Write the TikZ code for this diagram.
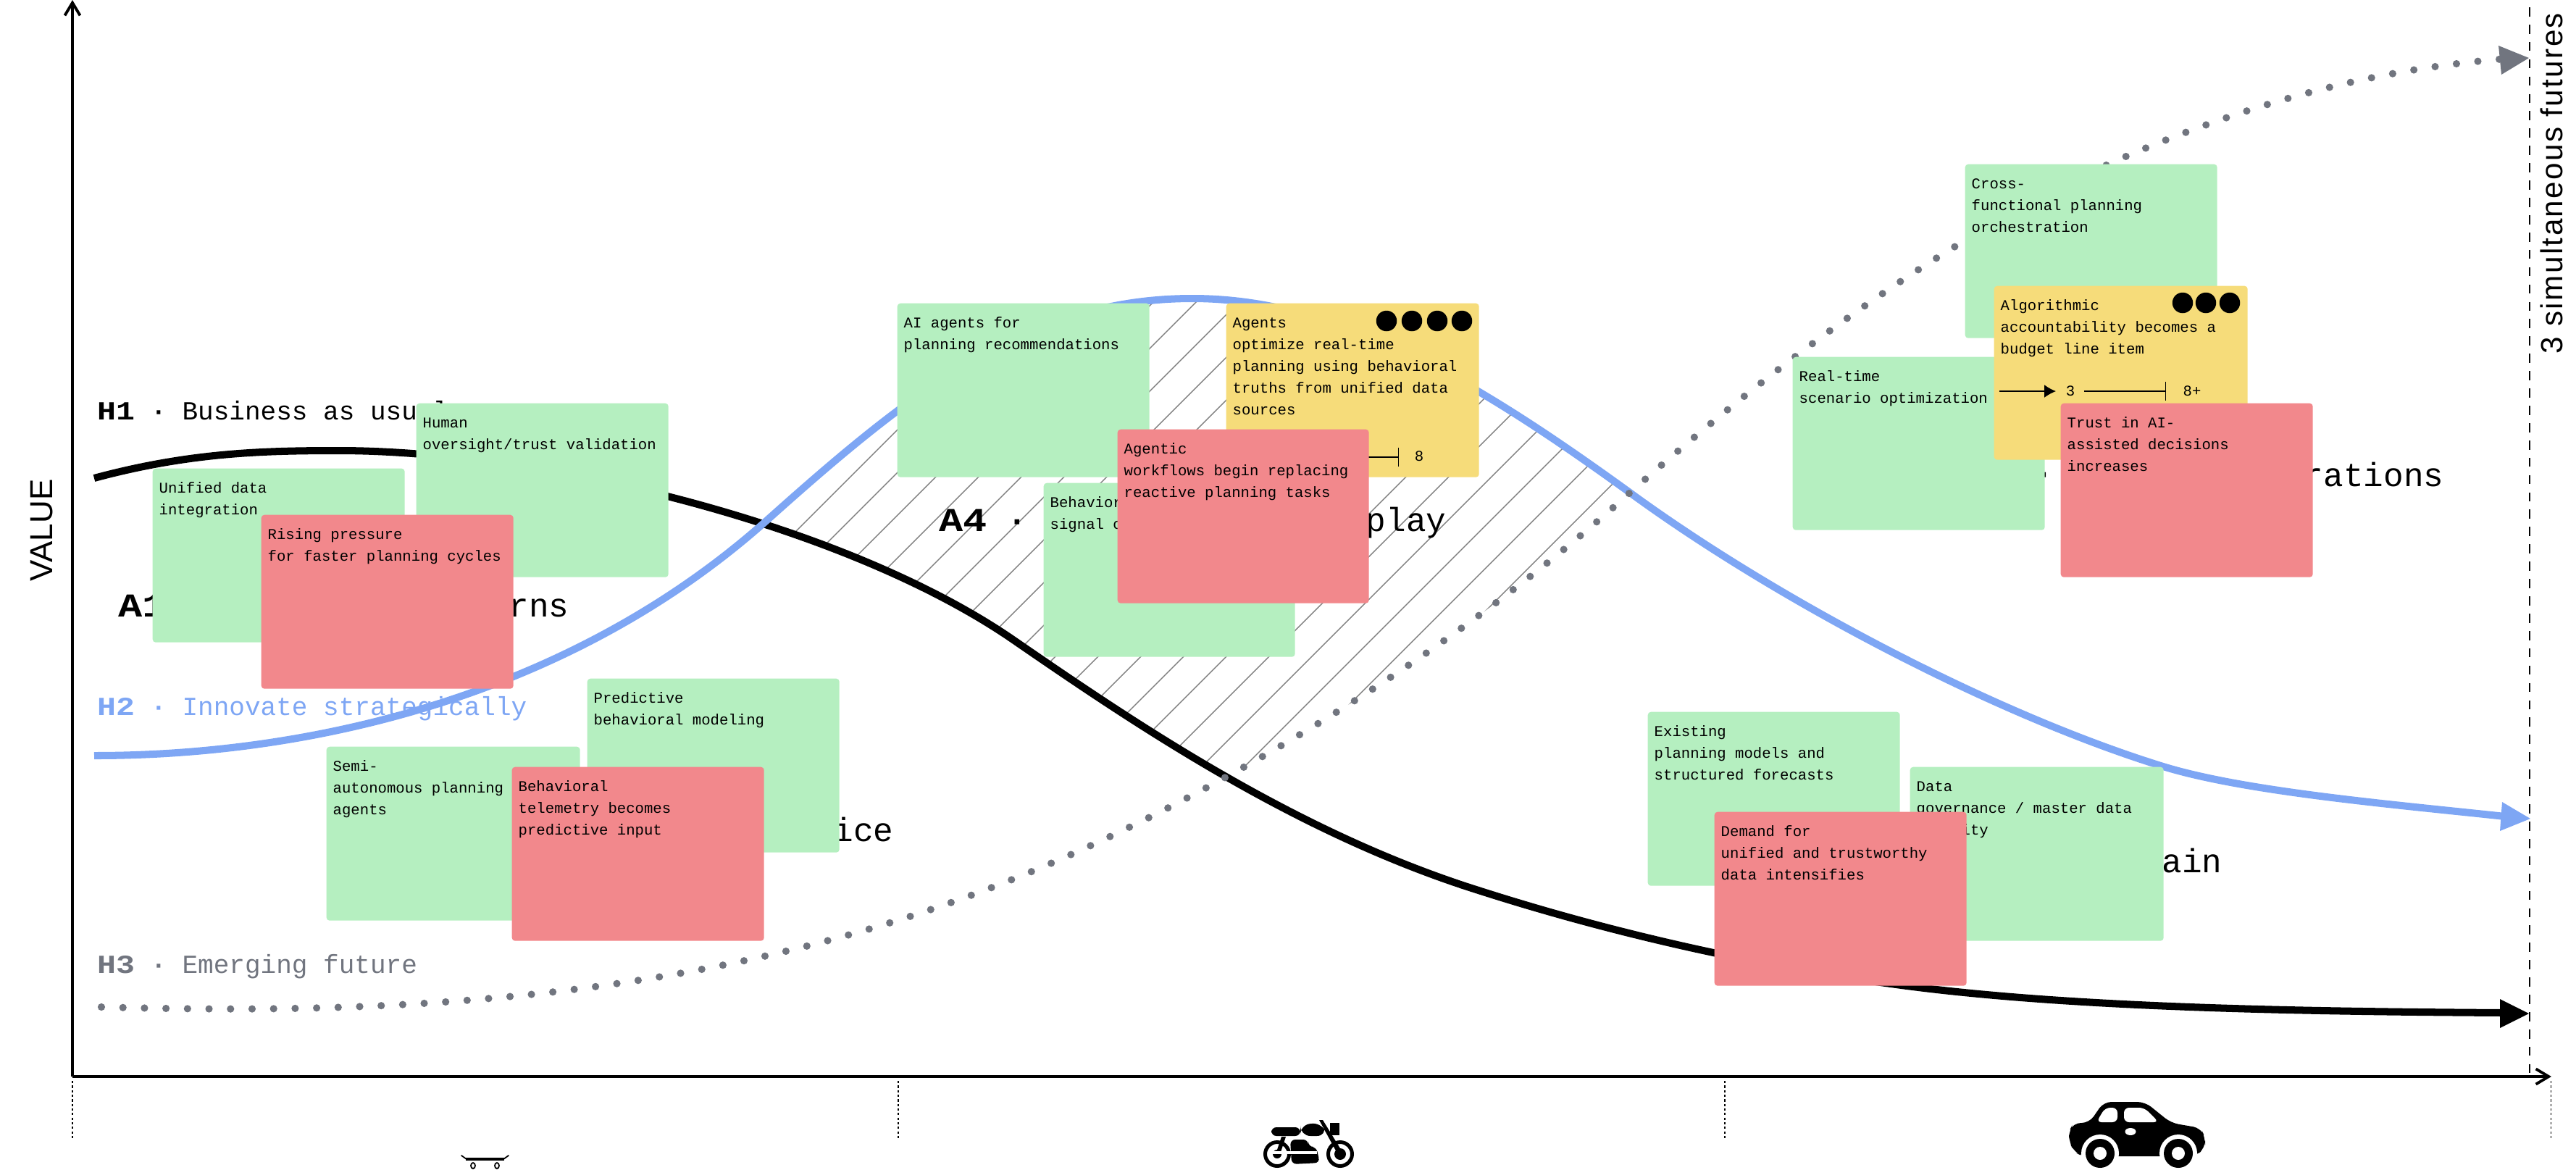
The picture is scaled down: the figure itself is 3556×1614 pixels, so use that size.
\documentclass[tikz,border=0pt]{standalone}
\usepackage{fontspec}
\setmainfont{Liberation Mono}
\newfontfamily\monob[FakeStretch=1.2]{Liberation Mono}
\newfontfamily\sansf{Liberation Sans}
\newfontfamily\sansw[LetterSpace=5.7]{Liberation Sans}
\usetikzlibrary{arrows.meta}
\definecolor{sgreen}{HTML}{B5EFC0}
\definecolor{sred}{HTML}{F2888C}
\definecolor{syellow}{HTML}{F6DC7A}
\definecolor{hblue}{HTML}{7EA6F4}
\definecolor{hgray}{HTML}{71757F}
\newcommand{\stickyfont}{\fontsize{5.87pt}{8.54pt}\selectfont}
\newcommand{\headfont}{\fontsize{10.25pt}{12pt}\selectfont}
\newcommand{\bigfont}{\fontsize{13.1pt}{16pt}\selectfont}
\tikzset{
  x=0.01cm,y=-0.01cm,
  stickybox/.style={draw=none,rounded corners=1.2pt,inner sep=0pt,anchor=north west},
  stickytext/.style={inner sep=0pt,anchor=north west,align=left,font=\stickyfont,text=black},
  headlabel/.style={inner sep=0pt,anchor=base west,font=\headfont},
  biglabel/.style={inner sep=0pt,anchor=base west,font=\bigfont,text=black},
  grn/.style={fill=sgreen},
  rd/.style={fill=sred},
  yel/.style={fill=syellow},
  dotmark/.style={circle,fill=black,inner sep=0pt,minimum size=8.1pt},
  hatchline/.style={draw=black!50,line width=0.4pt},
  tinytxt/.style={inner sep=0pt,font=\stickyfont,text=black},
  axisline/.style={line width=1.1pt,-{Straight Barb[length=5pt,width=6pt]}},
  tickline/.style={line width=0.3pt,dash pattern=on 0.9pt off 0.9pt}
}
% name, x, y, w, h, colour style, text
\newcommand{\sticky}[7]{%
  \node[stickybox,#6,minimum width=#4*0.01cm,minimum height=#5*0.01cm] (#1) at (#2,#3) {};
  \node[stickytext] (#1t) at ([xshift=0.09cm,yshift=-0.13cm]#1.north west) {\strut #7};
}
\def\blackpath{(130,660) .. controls (260,625) and (360,622) .. (467,622)
  .. controls (750,622) and (1170,725) .. (1400,884)
  .. controls (1570,1001) and (1790,1150) .. (2041,1229)
  .. controls (2200,1280) and (2400,1330) .. (2625,1360)
  .. controls (2850,1390) and (3150,1396) .. (3455,1398)}
\def\bluepath{(130,1043) .. controls (450,1043) and (800,950) .. (1060,717)
  .. controls (1260,538) and (1420,412) .. (1646,412)
  .. controls (1850,412) and (2040,528) .. (2250,680)
  .. controls (2450,826) and (2750,985) .. (2986,1058)
  .. controls (3100,1093) and (3300,1110) .. (3458,1127)}
\def\dotpath{(140,1390) .. controls (500,1400) and (950,1390) .. (1382,1220)
  .. controls (1600,1135) and (1950,950) .. (2250,680)
  .. controls (2420,530) and (2680,320) .. (2963,204)
  .. controls (3120,140) and (3280,95) .. (3460,81)}
\begin{document}
\begin{tikzpicture}
\useasboundingbox (0,0) rectangle (3556,1614);
% hatch
\begin{scope}
  \clip \bluepath -- (3556,1127) -- (3556,1614) -- (0,1614) -- (0,1043) -- cycle;
  \clip \blackpath -- (3556,1398) -- (3556,0) -- (0,0) -- (0,660) -- cycle;
  \clip \dotpath -- (3556,81) -- (3556,0) -- (0,0) -- (0,1390) -- cycle;
  \foreach \k in {-8,...,14} {
    \draw[hatchline] (1045+\k*59,1200) -- (1045+\k*59+1000,200);
  }
\end{scope}
% axes
\coordinate (orig) at (100,1486);
\coordinate (ytop) at (100,0);
\coordinate (xend) at (3522,1486);
\draw[axisline] (orig) -- (ytop);
\draw[axisline] (orig) -- (xend);
% ticks
\foreach \n/\px in {ta/100,tb/1240,tc/2381,td/3521} {
  \coordinate (\n1) at (\px,1492);
  \coordinate (\n2) at (\px,1572);
  \draw[tickline] (\n1) -- (\n2);
}
\coordinate (da) at (3492,10);
\coordinate (db) at (3492,1486);
\draw[line width=0.55pt,dash pattern=on 3.6pt off 3.2pt] (da) -- (db);
% curves
\draw[black,line width=2.85pt] \blackpath;
\draw[hblue,line width=2.85pt] \bluepath;
\draw[hgray,line width=2.9pt,line cap=round,dash pattern=on 0pt off 8.45pt] \dotpath;
% end arrows
\fill[black] (3451,1379) -- (3491,1399) -- (3451,1419) -- cycle;
\fill[hblue] (3454,1107) -- (3493,1130) -- (3451,1147) -- cycle;
\fill[hgray] (3449,63) -- (3491,80) -- (3453,103) -- cycle;
% labels
\node[headlabel,text=black] (h1) at (134,579) {{\monob\bfseries H1} {\bfseries ·} Business as usual};
\node[headlabel,text=hblue] (h2) at (134,987) {{\monob\bfseries H2} {\bfseries ·} Innovate strategically};
\node[headlabel,text=hgray] (h3) at (134,1343) {{\monob\bfseries H3} {\bfseries ·} Emerging future};
\node[biglabel] (a1) at (163,851) {{\monob\bfseries A1}};
\node[biglabel,anchor=base east] (a1r) at (786,851) {rns};
\node[biglabel] (a4) at (1296,733) {{\monob\bfseries A4} {\bfseries ·}};
\node[biglabel,anchor=base east] (a4r) at (1997,733) {play};
\node[biglabel,anchor=base east] (a2r) at (1234,1161) {ice};
\node[biglabel,anchor=base east] (a3r) at (3068,1204) {ain};
\node[biglabel,anchor=base] (a5d) at (2821,668) {\bfseries ·};
\node[biglabel,anchor=base east] (a5r) at (3374,671) {rations};
\node[inner sep=0pt,anchor=base,rotate=90,font=\sansf\fontsize{12.5pt}{14pt}\selectfont] (val) at (73,732) {VALUE};
\node[inner sep=0pt,anchor=base,rotate=90,font=\sansw\fontsize{12pt}{14pt}\selectfont] (fut) at (3537,253) {3 simultaneous futures};
% stickies
\sticky{s1}{210}{646}{348}{240}{grn}{Unified data\\integration}
\sticky{s2}{574}{556}{348}{240}{grn}{Human\\oversight/trust validation}
\sticky{s3}{360}{710}{348}{240}{rd}{Rising pressure\\for faster planning cycles}
\sticky{s4}{810}{936}{348}{240}{grn}{Predictive\\behavioral modeling}
\sticky{s5}{450}{1030}{350}{240}{grn}{Semi-\\autonomous planning\\agents}
\sticky{s6}{706}{1058}{348}{240}{rd}{Behavioral\\telemetry becomes\\predictive input}
\sticky{s7}{1238}{418}{348}{240}{grn}{AI agents for\\planning recommendations}
\sticky{s8}{1692}{418}{349}{240}{yel}{Agents\\optimize real-time\\planning using behavioral\\truths from unified data\\sources}
\sticky{s9}{1440}{666}{347}{240}{grn}{Behavioral\\signal capture}
\foreach \n/\px in {d1/1914,d2/1949,d3/1984,d4/2018} {
  \node[dotmark] (\n) at (\px,443) {};
}
\node[tinytxt] (eight) at (1959,630) {8};
\coordinate (ln1) at (1870,631);
\coordinate (ln2) at (1931,631);
\draw[line width=0.35pt,-{Bar[width=7.5pt,length=0pt]}] (ln1) -- (ln2);
\sticky{s10}{1542}{592}{347}{240}{rd}{Agentic\\workflows begin replacing\\reactive planning tasks}
\sticky{s11}{2712}{226}{348}{240}{grn}{Cross-\\functional planning\\orchestration}
\sticky{s12}{2474}{492}{348}{239}{grn}{Real-time\\scenario optimization}
\sticky{s13}{2752}{394}{350}{240}{yel}{Algorithmic\\accountability becomes a\\budget line item}
\foreach \n/\px in {e1/3013,e2/3045,e3/3078} {
  \node[dotmark] (\n) at (\px,418) {};
}
\node[tinytxt] (three) at (2858,540) {3};
\node[tinytxt] (eightp) at (3026,540) {8+};
\coordinate (l1) at (2760,540);
\coordinate (l2) at (2838,540);
\coordinate (l3) at (2877,540);
\coordinate (l4) at (2990,540);
\draw[line width=0.35pt,-{Latex[length=4.5pt,width=5pt]}] (l1) -- (l2);
\draw[line width=0.35pt,-{Bar[width=7.5pt,length=0pt]}] (l3) -- (l4);
\sticky{s14}{2844}{556}{348}{240}{rd}{Trust in AI-\\assisted decisions\\increases}
\sticky{s15}{2274}{982}{348}{240}{grn}{Existing\\planning models and\\structured forecasts}
\sticky{s16}{2636}{1058}{350}{240}{grn}{Data\\governance / master data\\maturity}
\sticky{s17}{2366}{1120}{348}{240}{rd}{Demand for\\unified and trustworthy\\data intensifies}
% skateboard
\draw[line width=0.5pt,line cap=round] (637,1595) -- (644,1600) (695,1600) -- (702,1595);
\draw[line width=1pt] (643,1600) -- (696,1600);
\draw[line width=0.5pt] (653,1609) ellipse (3 and 4);
\draw[line width=0.5pt] (686,1609) ellipse (3 and 4);
% motorcycle
\fill[black,even odd rule] (1763,1593) circle (19) (1763,1593) circle (14);
\fill[black,even odd rule] (1850,1593) circle (19) (1850,1593) circle (14);
\fill[black] (1850,1593) circle (8);
\fill[black] (1763,1593) circle (6);
\fill[black,rounded corners=2pt] (1755,1556) rectangle (1795,1568);
\fill[black,rounded corners=4pt] (1795,1568) -- (1795,1552) -- (1826,1550) -- (1832,1568) -- cycle;
\fill[black,rounded corners=2pt] (1781,1573) -- (1806,1573) -- (1806,1583) -- (1817,1583) -- (1822,1605) -- (1783,1607) -- cycle;
\fill[black] (1769,1569) -- (1775,1569) -- (1768,1590) -- (1762,1590) -- cycle;
\fill[black] (1821,1546) -- (1826,1546) -- (1853,1590) -- (1846,1592) -- cycle;
\fill[black] (1836,1550) rectangle (1849,1567);
\fill[white] (1752,1589) rectangle (1818,1593);
% car
\fill[black,rounded corners=3pt] (2875,1596) -- (2863,1590) -- (2856,1575) -- (2856,1562) -- (2862,1550) -- (2884,1550) -- (2904,1521) -- (2961,1521) -- (2997,1550) -- (3038,1557) -- (3044,1570) -- (3044,1585) -- (3030,1596) -- cycle;
\fill[white,rounded corners=2pt] (2894,1549) -- (2906,1529) -- (2923,1529) -- (2923,1549) -- cycle;
\fill[white,rounded corners=2pt] (2932,1549) -- (2932,1529) -- (2960,1529) -- (2980,1549) -- cycle;
\fill[white] (2941,1562) ellipse (7.5 and 5);
\fill[white] (2899,1592) circle (26);
\fill[white] (3007,1592) circle (26);
\fill[black] (2899,1592) circle (20);
\fill[white] (2899,1592) circle (9);
\fill[black] (3007,1592) circle (20);
\fill[white] (3007,1592) circle (9);
\end{tikzpicture}
\end{document}
